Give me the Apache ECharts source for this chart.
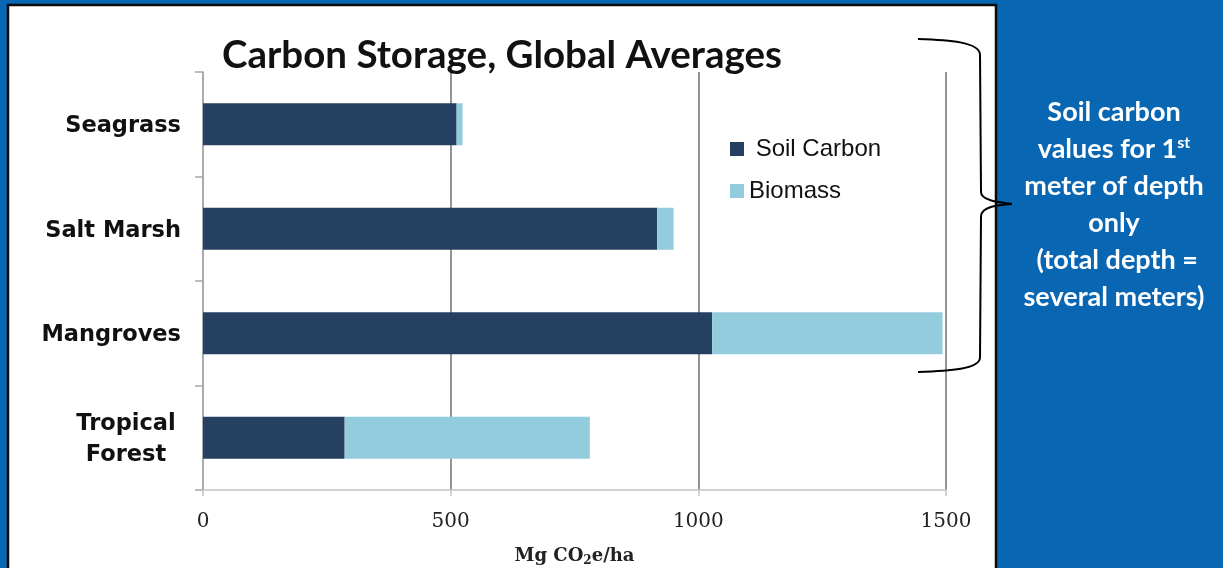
<!DOCTYPE html>
<html>
<head>
<meta charset="utf-8">
<style>
  html, body { margin: 0; padding: 0; background: #0866b2; }
  #chart { width: 1223px; height: 568px; }
</style>
<script src="https://cdn.jsdelivr.net/npm/echarts@6/dist/echarts.min.js"></script>
</head>
<body>
<div id="chart"></div>
<script>
// Ecosystem categories, top to bottom
const categories = ['Seagrass', 'Salt Marsh', 'Mangroves', 'Tropical Forest'];
// Mg CO2e per hectare
const soilCarbon = [512, 917, 1028, 286];
const biomass = [12, 33, 465, 495];
// value-axis ticks
const xTicks = [0, 500, 1000, 1500];

const sideNote = [
  'Soil carbon',
  'values for 1{sup|st}',
  'meter of depth',
  'only',
  ' (total depth =',
  'several meters)'
];

const chart = echarts.init(document.getElementById('chart'));

// curly brace spanning the three coastal ecosystems
const braceStyle = { fill: null, stroke: '#000', lineWidth: 2 };
const brace = [
  { type: 'bezierCurve', shape: { x1: 918, y1: 39, cpx1: 950, cpy1: 40, cpx2: 978, cpy2: 42, x2: 980, y2: 54 } },
  { type: 'line', shape: { x1: 980, y1: 54, x2: 981, y2: 192 } },
  { type: 'bezierCurve', shape: { x1: 981, y1: 192, cpx1: 981, cpy1: 200, cpx2: 996, cpy2: 202, x2: 1012, y2: 204 } },
  { type: 'bezierCurve', shape: { x1: 1012, y1: 204, cpx1: 996, cpy1: 205, cpx2: 982, cpy2: 207, x2: 981, y2: 216 } },
  { type: 'line', shape: { x1: 981, y1: 216, x2: 980, y2: 358 } },
  { type: 'bezierCurve', shape: { x1: 980, y1: 358, cpx1: 979, cpy1: 369, cpx2: 950, cpy2: 371, x2: 918, y2: 372 } }
].map(g => Object.assign(g, { z: 50, silent: true, style: braceStyle }));

chart.setOption({
  backgroundColor: '#0866b2',
  animation: false,
  title: {
    text: 'Carbon Storage, Global Averages',
    left: 217,
    top: 31,
    textStyle: { fontFamily: 'Lato', fontWeight: 'bold', fontSize: 38.5, color: '#111' }
  },
  legend: {
    orient: 'vertical',
    left: 725,
    top: 132,
    itemWidth: 14,
    itemHeight: 14,
    itemGap: 18,
    icon: 'rect',
    data: ['Soil Carbon', 'Biomass'],
    formatter: n => (n === 'Soil Carbon' ? ' ' + n : n),
    textStyle: { fontFamily: 'Liberation Sans', fontSize: 24, color: '#111' }
  },
  grid: { left: 203, right: 277, top: 72, bottom: 78, containLabel: false, outerBoundsMode: 'none' },
  xAxis: {
    type: 'value',
    min: xTicks[0],
    max: xTicks[xTicks.length - 1],
    interval: 500,
    name: 'Mg CO{sub|2}e/ha',
    nameLocation: 'middle',
    nameGap: 56,
    nameTextStyle: {
      fontFamily: 'DejaVu Serif', fontWeight: 'bold', fontSize: 18, color: '#222',
      rich: {
        sub: { fontFamily: 'DejaVu Serif', fontWeight: 'bold', fontSize: 12, color: '#222', padding: [9, 0, 0, 0] }
      }
    },
    axisLine: { show: true, lineStyle: { color: '#c4c4c4', width: 1.5 } },
    axisTick: { show: true, length: 6, lineStyle: { color: '#c4c4c4', width: 1.5 } },
    axisLabel: {
      margin: 22,
      fontFamily: 'DejaVu Serif',
      fontSize: 20,
      color: '#222',
      formatter: v => String(v)
    },
    splitLine: { show: true, lineStyle: { color: ['#a6a6a6', '#7a7a7a', '#7a7a7a', '#7a7a7a'], width: 1.6 } }
  },
  yAxis: {
    type: 'category',
    inverse: true,
    data: categories,
    axisLine: { show: true, lineStyle: { color: '#a6a6a6', width: 1.5 } },
    axisTick: { show: true, length: 8, lineStyle: { color: '#a6a6a6', width: 1.5 } },
    axisLabel: {
      margin: 22,
      fontFamily: 'DejaVu Sans',
      fontWeight: 'bold',
      fontSize: 22.5,
      color: '#111',
      padding: [4, 0, 0, 0],
      formatter: v => (v === 'Tropical Forest' ? '{c|Tropical}\n{c|Forest}' : v),
      rich: {
        c: { width: 110, align: 'center', fontFamily: 'DejaVu Sans', fontWeight: 'bold', fontSize: 22.5, color: '#111', lineHeight: 31 }
      }
    }
  },
  series: [
    {
      name: 'Soil Carbon',
      type: 'bar',
      stack: 'total',
      barWidth: 42,
      itemStyle: { color: '#254061' },
      data: soilCarbon
    },
    {
      name: 'Biomass',
      type: 'bar',
      stack: 'total',
      barWidth: 42,
      itemStyle: { color: '#93cddd' },
      data: biomass
    }
  ],
  graphic: [
    {
      type: 'rect',
      z: -10,
      silent: true,
      shape: { x: 8, y: 5, width: 988, height: 600 },
      style: { fill: '#ffffff', stroke: '#0a0a0a', lineWidth: 2.5 }
    },
    ...brace,
    {
      type: 'text',
      z: 50,
      silent: true,
      x: 1114,
      y: 94,
      style: {
        text: sideNote.join('\n'),
        align: 'center',
        fill: '#fff',
        font: 'bold 27px Lato',
        lineHeight: 37,
        rich: {
          sup: { font: 'bold 16px Lato', fill: '#fff', padding: [0, 0, 14, 0] }
        }
      }
    }
  ]
});
</script>
</body>
</html>
